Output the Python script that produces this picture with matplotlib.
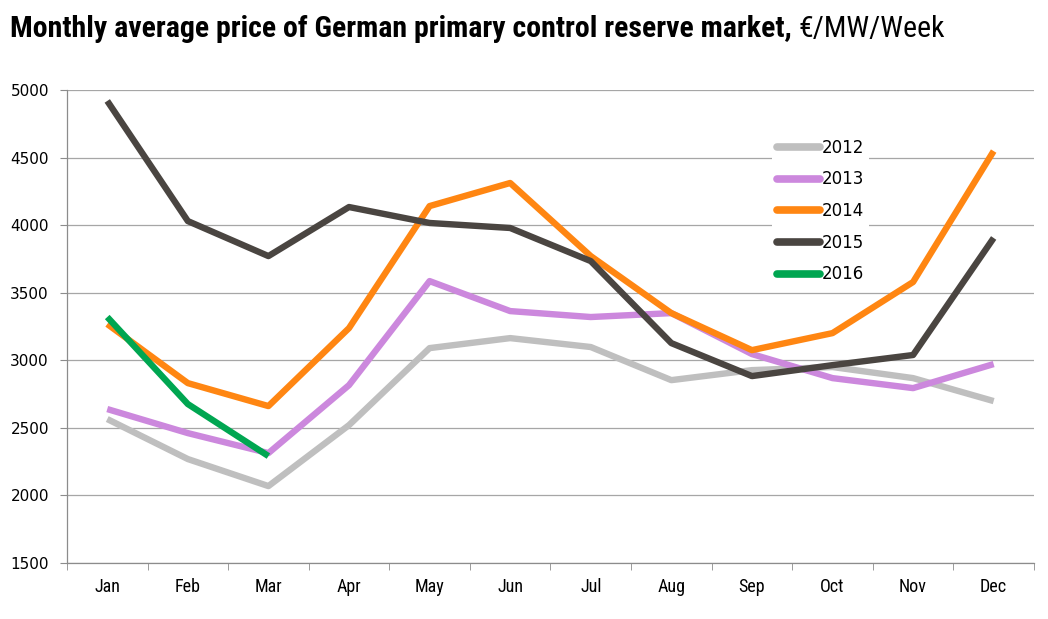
import matplotlib.pyplot as plt
from matplotlib.ticker import FixedLocator
from matplotlib import font_manager

months = ["Jan", "Feb", "Mar", "Apr", "May", "Jun", "Jul", "Aug", "Sep", "Oct", "Nov", "Dec"]
p2012 = [2565, 2269, 2069, 2520, 3090, 3164, 3098, 2853, 2927, 2950, 2868, 2698]
p2013 = [2639, 2461, 2313, 2816, 3586, 3364, 3320, 3349, 3046, 2868, 2794, 2972]
p2014 = [3268, 2831, 2661, 3238, 4141, 4312, 3771, 3349, 3075, 3201, 3579, 4548]
p2015 = [4919, 4030, 3771, 4134, 4016, 3979, 3734, 3127, 2883, 2964, 3039, 3905]
p2016 = [3320, 2676, 2291]

series = [("2012", p2012, "#BFBFBF"),
          ("2013", p2013, "#CC88DD"),
          ("2014", p2014, "#FF8612"),
          ("2015", p2015, "#4A4541"),
          ("2016", p2016, "#00A651")]

names = {f.name for f in font_manager.fontManager.ttflist}
narrow = "DejaVu Sans"
for cand in ["Liberation Sans Narrow", "Roboto Condensed", "Open Sans Condensed", "DejaVu Sans"]:
    if cand in names:
        narrow = cand
        break

fig = plt.figure(figsize=(10.48, 6.19), dpi=100)
ax = fig.add_axes([0.0639, 0.0905, 0.9227, 0.7641])

x = list(range(len(months)))
for name, vals, col in series:
    ax.plot(x[:len(vals)], vals, color=col, lw=4.6, label=name, solid_capstyle="butt")

ax.set_xlim(-0.5, 11.5)
ax.set_ylim(1500, 5000)
ax.set_yticks(range(1500, 5001, 500))
ax.set_xticks(x)
ax.set_xticklabels(months, family=narrow, stretch="condensed", fontsize=13)
ax.xaxis.set_minor_locator(FixedLocator([i - 0.5 for i in range(13)]))
ax.tick_params(axis="x", which="major", length=0, pad=11)
ax.tick_params(axis="x", which="minor", length=5, color="#8C8C8C", direction="out")
ax.tick_params(axis="y", length=5, color="#8C8C8C", direction="out", labelsize=11, pad=8)

ax.grid(axis="y", color="#A6A6A6", lw=0.9)
ax.set_axisbelow(True)
for s in ["top", "right"]:
    ax.spines[s].set_visible(False)
for s in ["left", "bottom"]:
    ax.spines[s].set_color("#8C8C8C")
    ax.spines[s].set_linewidth(0.9)

leg = ax.legend(loc="upper left", bbox_to_anchor=(0.72, 0.925), frameon=True, framealpha=1,
                edgecolor="none", fontsize=12, handlelength=2.6, handletextpad=0.1,
                labelspacing=0.82, borderpad=0.3)
for h in leg.get_lines():
    h.set_linewidth(5.5)
    h.set_solid_capstyle("round")

t1 = fig.text(0.0095, 0.953, "Monthly average price of German primary control reserve market,",
              family=narrow, stretch="condensed", weight="bold", fontsize=21.5, va="center")
fig.canvas.draw()
bb = t1.get_window_extent()
fig.text((bb.x1 + 7) / fig.bbox.width, 0.953, "€/MW/Week",
         family=narrow, stretch="condensed", fontsize=21.5, va="center")

fig.savefig("out.png", dpi=100)
